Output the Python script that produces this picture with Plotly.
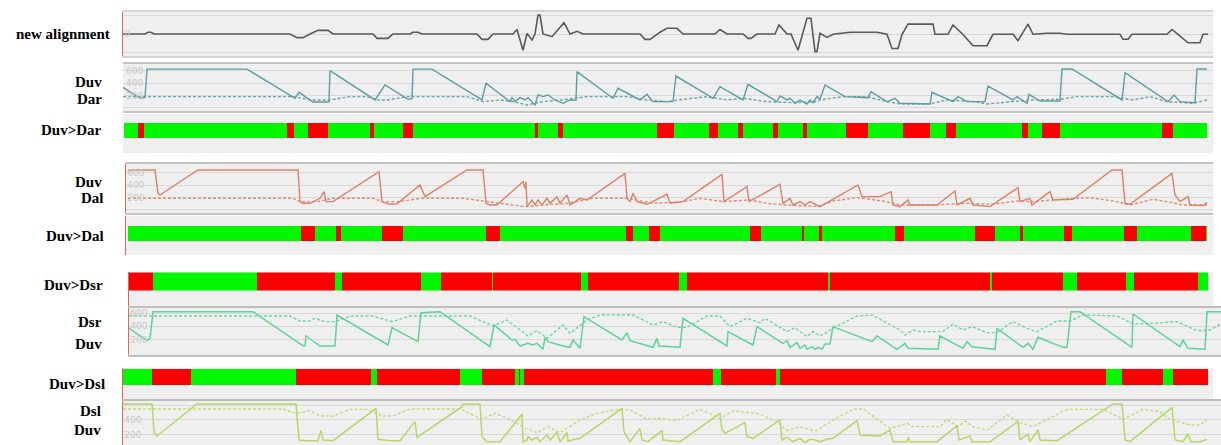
import plotly.graph_objects as go

W, H = 1221, 445

# ---------------- data: sample index -> value ----------------
align_t = [123,145,148,151,154,290,297,303,310,318,328,333,373,377,388,393,410,413,418,422,
           477,482,488,493,513,517,523,527,532,535,538,540,543,552,564,570,577,583,640,645,
           650,657,660,667,677,683,715,720,727,743,748,751,757,775,779,787,791,798,807,811,
           815,817,820,827,833,850,877,887,892,898,902,908,933,935,948,953,963,973,987,993,
           1013,1018,1028,1033,1047,1060,1067,1120,1123,1128,1132,1167,1172,1178,1188,1200,1203,1208]
align_v = [0,0,0.002,0.002,0,0,-0.004,-0.004,0,0.004,0.004,0,0,-0.0048,-0.0048,0,0,0.002,0.002,0,
           0,-0.006,-0.006,0,0,0.005,-0.018,0.0007,-0.0067,0,0.021,0.021,0,-0.003,0.0126,0,0.003,0,0,-0.006,
           -0.006,0,0.002,0.0063,0.0063,0,0,0.005,0,0,-0.0048,-0.0048,0,0,0.01,0,0,-0.018,0.0174,0.0174,
           -0.0196,-0.0196,0.0007,-0.0037,-0.0003,0.0019,0.0019,-0.0003,-0.016,-0.016,-0.0006,0.011,0.011,-0.0003,-0.0003,0.01,-0.0006,-0.013,-0.013,-0.0003,
           -0.0003,-0.0074,0.011,-0.0003,0.0008,0.0008,-0.0003,-0.0003,-0.0059,-0.0059,-0.0003,-0.0003,0.005,-0.0003,-0.0097,-0.0097,-0.0003,-0.0003]

# Duv vs Dar
dar_duv_t = [123,140,145,147,247,295,299,310,313,328,329,330,375,385,408,412,413,432,482,486,
             510,512,515,520,525,528,535,538,543,548,555,563,570,576,577,613,618,640,647,653,
             673,676,713,720,743,748,777,780,787,790,795,800,807,810,813,817,820,825,845,868,
             871,887,895,900,930,932,953,958,967,985,988,1013,1017,1027,1029,1040,1060,1062,1072,1122,
             1125,1168,1174,1180,1195,1197,1207]
dar_duv_v = [335,157,170,630,630,157,254,130,97,97,100,605,130,373,140,150,630,630,130,400,
             103,167,103,167,130,167,49,211,184,211,130,76,130,130,589,157,319,130,221,103,
             103,518,157,346,130,383,103,194,130,157,76,130,65,130,86,184,140,373,184,167,
             265,103,157,76,65,254,103,184,103,103,356,130,184,76,221,113,113,632,632,130,
             572,103,211,103,86,632,632]
dar_t = [123,293,310,330,350,367,377,387,408,467,483,500,513,527,543,567,587,627,647,667,
         683,707,727,743,767,793,817,820,843,867,887,900,930,947,973,987,1013,1033,1060,1077,
         1113,1133,1150,1167,1193,1207]
dar_v = [184,184,130,130,184,184,130,130,184,184,103,130,103,49,103,140,184,184,130,103,
         140,184,130,157,103,86,103,130,184,184,103,65,65,130,103,65,103,130,140,184,
         184,130,184,103,76,130]
dar_cmp_edges = [124,138,144,287,294,308,328,370,374,403,413,535,538,558,563,657,674,709,718,738,
                 743,773,778,803,807,846,868,903,930,946,956,1022,1028,1042,1060,1162,1173,1207]
dar_cmp_first = True

# Duv vs Dal
dal_duv_t = [128,155,158,160,198,298,300,303,310,320,324,326,333,379,382,390,397,420,425,467,
             483,486,490,497,523,525,526,527,532,535,538,542,547,550,557,560,567,570,580,587,
             625,627,630,633,637,647,667,670,683,722,724,747,749,780,783,790,793,800,805,810,
             820,828,832,858,862,880,891,893,900,908,910,937,955,957,970,973,990,1018,1020,1030,
             1032,1050,1053,1073,1112,1122,1125,1130,1172,1175,1180,1188,1190,1203,1207]
dal_duv_v = [648,648,270,243,648,648,135,108,108,189,297,135,135,621,135,92,100,405,216,648,
             648,108,81,81,459,351,459,54,162,81,162,81,189,108,216,108,243,81,189,162,
             594,189,135,270,135,92,254,108,135,578,135,378,135,416,108,189,81,135,81,135,
             54,135,162,405,216,216,297,81,54,162,81,81,308,81,189,81,54,362,135,189,
             81,297,162,173,648,648,108,92,594,243,135,216,81,70,119]
dal_t = [128,293,300,317,333,373,383,400,420,463,525,547,567,593,627,653,683,700,723,750,
         767,787,818,833,857,883,900,933,967,993,1017,1033,1060,1090,1117,1130,1153,1167,1183,1207]
dal_v = [189,189,135,135,189,189,135,135,189,189,54,81,108,189,189,108,135,189,135,162,
         108,81,54,146,200,146,81,81,108,92,146,135,173,200,135,81,173,135,81,81]
dal_cmp_edges = [128,301,315,336,341,382,403,486,500,626,633,649,660,750,761,802,804,819,822,895,
                 904,975,995,1020,1023,1064,1072,1124,1137,1191,1206,1207]
dal_cmp_first = True

# Duv vs Dsr
dsr_cmp_edges = [129,153,257,335,342,421,441,492,493,581,588,679,687,828,830,990,992,1063,1077,1126,
                 1134,1198,1208]
dsr_cmp_first = False
dsr_duv_t = [129,147,150,153,253,302,305,306,320,335,337,388,392,418,421,440,490,494,512,515,
             520,528,533,537,543,545,548,553,563,570,573,580,584,622,627,630,653,657,659,680,
             683,727,728,753,757,783,787,790,797,800,805,807,812,815,818,822,825,830,833,872,
             877,897,905,908,938,940,963,967,972,995,997,1023,1028,1033,1038,1063,1067,1071,1080,1132,
             1133,1180,1183,1188,1205,1207,1221]
dsr_duv_v = [370,185,220,620,620,120,105,255,105,105,570,120,380,170,605,620,95,420,195,205,
             105,145,120,145,55,235,170,145,105,85,195,70,545,195,305,185,85,220,105,85,
             520,105,320,120,395,145,185,85,155,70,120,55,95,55,85,55,135,135,395,170,
             255,55,145,70,55,255,70,170,95,55,370,85,145,55,235,85,85,620,620,85,
             585,95,195,70,55,620,620]
dsr_t = [129,290,300,310,315,325,335,350,373,392,410,470,493,507,528,537,547,563,570,587,
         600,633,653,663,677,687,707,720,730,747,760,765,787,795,807,813,820,833,857,872,
         900,905,913,920,943,953,963,972,987,997,1013,1027,1037,1057,1070,1083,1117,1133,1153,1177,
         1197,1210,1221]
dsr_v = [555,555,480,480,520,470,470,555,555,470,555,555,405,495,255,335,220,420,295,495,
         570,570,420,470,385,385,555,555,395,520,455,520,320,380,245,320,255,370,555,570,
         345,270,345,320,320,435,345,395,305,305,470,370,320,480,480,570,555,435,445,470,
         335,345,440]

# Duv vs Dsl
dsl_cmp_edges = [123,152,191,296,371,377,460,482,515,519,520,524,713,721,776,780,1106,1122,1163,1173,1208]
dsl_cmp_first = True
dsl_duv_t = [123,152,154,157,197,296,299,305,318,321,323,333,376,378,390,400,415,417,462,463,
             480,482,487,500,522,523,527,528,532,537,540,547,550,557,560,567,568,573,580,622,
             624,630,640,642,648,662,663,680,720,722,725,745,747,753,780,782,787,793,800,805,
             810,815,820,827,833,857,860,880,890,893,907,908,910,937,957,959,970,972,990,1018,
             1020,1028,1030,1038,1040,1057,1113,1122,1125,1130,1172,1175,1183,1188,1191,1200,1207]
dsl_duv_v = [621,621,239,179,621,621,124,115,115,253,124,115,561,133,115,115,377,161,584,621,
             621,170,101,101,478,101,124,170,124,161,101,193,124,225,101,225,110,124,147,561,
             239,101,285,124,101,253,124,101,492,262,216,363,170,147,400,124,161,101,147,87,
             133,124,101,133,147,391,193,179,262,101,101,161,101,101,317,124,179,101,101,377,
             124,207,101,262,124,115,621,621,124,101,575,124,101,207,101,101,133]
dsl_t = [123,283,293,300,310,320,333,350,367,383,393,410,460,482,495,510,525,537,548,560,
         580,597,620,630,647,660,677,700,720,733,757,777,787,800,810,817,827,853,863,890,
         907,913,940,947,958,965,973,987,1007,1020,1033,1057,1067,1103,1123,1143,1160,1170,1190,1200,
         1207]
dsl_v = [552,552,501,501,529,455,455,547,547,455,455,552,552,409,492,409,285,225,308,225,
         400,492,552,538,409,423,391,547,423,524,492,377,253,308,262,253,354,547,552,285,
         354,308,308,409,308,386,308,262,469,363,308,469,547,547,409,547,515,409,331,331,
         409]

# ---------------- styling ----------------
GREEN, RED = "#00f700", "#fa0000"
GRID, FRAME, TICK = "#d9d9d9", "#c4c4c4", "#c9c9c9"
AXIS_RED = "#e0655c"
LABEL_FONT = dict(family="Liberation Serif, Times New Roman, serif", size=15, color="#000", weight="bold")

fig = go.Figure()
layout = dict(width=W, height=H, margin=dict(l=0, r=0, t=0, b=0),
              paper_bgcolor="white", plot_bgcolor="#efefef",
              showlegend=False, barmode="overlay", annotations=[])


def px_x(l, r):
    return [l / W, r / W]


def px_y(top, bot):
    return [1 - bot / H, 1 - top / H]


def add_axes(n, left, right, top, bot, yrange, red_edge=False, frame=False,
             tickvals=None, ticktext=None, framecolor=FRAME, framewidth=1.5):
    layout[f"xaxis{n}"] = dict(domain=px_x(left, right), range=[left, right], anchor=f"y{n}",
                               showticklabels=False, showgrid=False, zeroline=False, ticks="",
                               showline=frame, mirror=frame, linecolor=framecolor,
                               linewidth=framewidth, fixedrange=True)
    ya = dict(domain=px_y(top, bot), range=yrange, anchor=f"x{n}", zeroline=False,
              showline=red_edge, linecolor=AXIS_RED, linewidth=1.2, ticks="", fixedrange=True)
    if tickvals is not None:
        ya.update(tickvals=tickvals, ticktext=ticktext, showgrid=True, gridcolor=GRID,
                  gridwidth=1, showticklabels=True, ticklabelposition="inside",
                  tickfont=dict(size=9, color=TICK, family="DejaVu Sans"))
    else:
        ya.update(showgrid=False, showticklabels=False)
    layout[f"yaxis{n}"] = ya


def add_line(n, t, v, color, dash=None, width=1.5):
    fig.add_trace(go.Scatter(x=t, y=v, mode="lines", xaxis=f"x{n}", yaxis=f"y{n}",
                             line=dict(color=color, width=width, dash=dash),
                             hoverinfo="skip"))


def add_state_bar(n, edges, first):
    starts, lengths, colors = [], [], []
    state = first
    for a, b in zip(edges[:-1], edges[1:]):
        starts.append(a)
        lengths.append(b - a)
        colors.append(GREEN if state else RED)
        state = not state
    fig.add_trace(go.Bar(orientation="h", base=starts, x=lengths, y=[0] * len(starts),
                         width=1.0, xaxis=f"x{n}", yaxis=f"y{n}",
                         marker=dict(color=colors, line=dict(width=0)), hoverinfo="skip"))


def label(text, right_px, y_px):
    layout["annotations"].append(dict(text=text, x=right_px / W, y=1 - y_px / H,
                                      xref="paper", yref="paper", xanchor="right",
                                      yanchor="middle", showarrow=False, font=LABEL_FONT))


duv_ticks = [0, 200, 400, 600]

# 1: new alignment
add_axes(1, 123, 1213, 12, 56, [-0.0244, 0.0244], red_edge=True, frame=True,
         tickvals=[0.02, 0, -0.02], ticktext=["0.02", "0", "-0.02"], framecolor="#d4d4d4")
add_line(1, align_t, align_v, "#595959", width=1.6)

# 2: Duv / Dar
add_axes(2, 123, 1213, 64, 111, [-49, 713], frame=True,
         tickvals=duv_ticks, ticktext=[str(v) for v in duv_ticks])
add_line(2, dar_t, dar_v, "#6aa5a8", dash="3px,2px", width=1.4)
add_line(2, dar_duv_t, dar_duv_v, "#5c9da2", width=1.4)

# 3: Duv>Dar
add_axes(3, 123, 1213, 114, 153, [-1.5, 1.1])
add_state_bar(3, dar_cmp_edges, dar_cmp_first)

# 4: Duv / Dal
add_axes(4, 126, 1213, 164, 213, [-49, 745], red_edge=True, frame=True,
         tickvals=duv_ticks, ticktext=[str(v) for v in duv_ticks])
add_line(4, dal_t, dal_v, "#dd8d74", dash="3px,2px", width=1.4)
add_line(4, dal_duv_t, dal_duv_v, "#d8826a", width=1.4)

# 5: Duv>Dal
add_axes(5, 126, 1213, 216, 255, [-1.433, 1.167], red_edge=True)
add_state_bar(5, dal_cmp_edges, dal_cmp_first)

# 6: Duv>Dsr
add_axes(6, 129, 1213, 272, 307, [-1.417, 0.53], red_edge=True)
add_state_bar(6, dsr_cmp_edges, dsr_cmp_first)

# 7: Dsr / Duv
add_axes(7, 129, 1221, 308, 355, [-30, 675], red_edge=True, frame=True,
         tickvals=[200, 400, 600], ticktext=["200", "400", "600"], framecolor="#bdbdbd", framewidth=2)
add_line(7, dsr_t, dsr_v, "#6dd6a2", dash="3px,2px", width=1.4)
add_line(7, dsr_duv_t, dsr_duv_v, "#5fd29a", width=1.5)

# 8: Duv>Dsl
add_axes(8, 123, 1213, 368, 400, [-1.4375, 0.5625], red_edge=True)
add_state_bar(8, dsl_cmp_edges, dsl_cmp_first)

# 9: Dsl / Duv
add_axes(9, 123, 1221, 401, 445, [55, 662], red_edge=True, frame=True,
         tickvals=[200, 400, 600], ticktext=["200", "400", "600"], framecolor="#bdbdbd", framewidth=2)
add_line(9, dsl_t, dsl_v, "#c0dc7e", dash="3px,2px", width=1.4)
add_line(9, dsl_duv_t, dsl_duv_v, "#b5d66a", width=1.5)

# row labels
label("new alignment", 112, 34)
label("Duv", 104, 82)
label("Dar", 104, 99)
label("Duv>Dar", 104, 130)
label("Duv", 104, 182)
label("Dal", 106, 198)
label("Duv>Dal", 106, 236)
label("Duv>Dsr", 105, 285)
label("Dsr", 104, 322)
label("Duv", 104, 344)
label("Duv>Dsl", 107, 384)
label("Dsl", 103, 411)
label("Duv", 103, 430)

fig.update_layout(**layout)
fig.write_html("out.html")
